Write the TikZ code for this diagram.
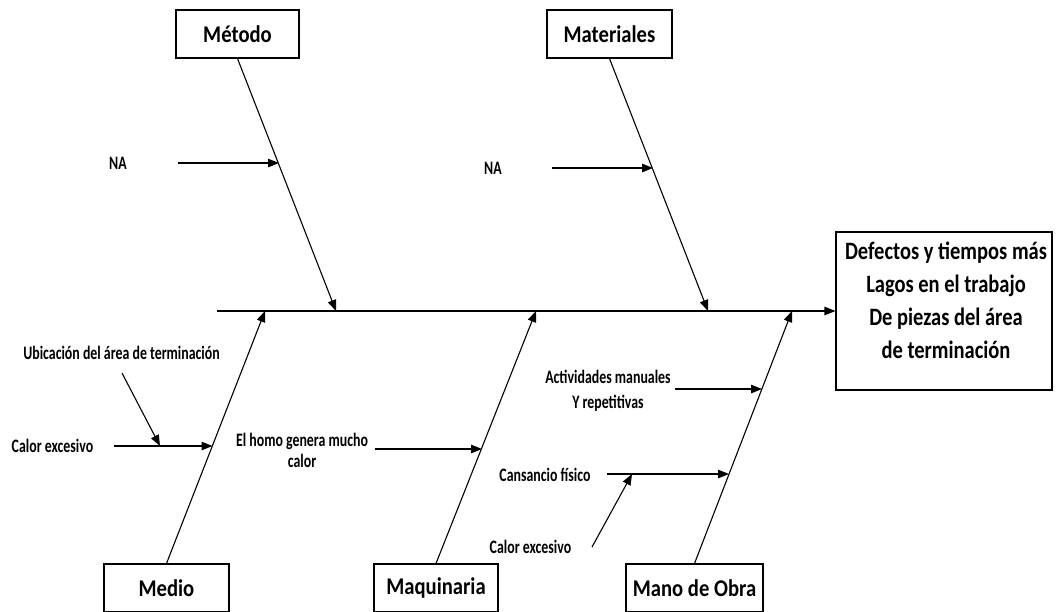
\documentclass[tikz,border=0pt]{standalone}
\usepackage{fontspec}
\setmainfont{Carlito}[FakeStretch=0.86]
\newfontfamily\causefont{Carlito}[FakeStretch=0.73]
\newfontfamily\effectfont{Carlito}[FakeStretch=0.82]
\usetikzlibrary{arrows.meta,calc}
\begin{document}
\begin{tikzpicture}[x=1pt,y=-1pt,
  catbox/.style={draw, line width=1.1pt, minimum height=48pt, inner sep=0pt,
    font=\bfseries\fontsize{24}{28}\selectfont},
  lbl/.style={font=\causefont\bfseries\fontsize{19}{21}\selectfont, align=center, inner sep=0pt},
  bone/.style={line width=1.1pt, -{Triangle[length=11pt,width=8.5pt]}},
]
\useasboundingbox (0,0) rectangle (1056,611);

% effect (head of the fish)
\node[draw, line width=1.1pt, minimum width=216pt, minimum height=158pt, inner sep=0pt] (eff) at (944,311) {};
\node[align=center, inner sep=0pt, font=\effectfont\bfseries\fontsize{25}{33}\selectfont] (efftxt) at (946,300)
  {Defectos y tiempos más\\Lagos en el trabajo\\De piezas del área\\de terminación};

% category boxes
\node[catbox, minimum width=123pt] (met) at (237.5,34) {Método};
\node[catbox, minimum width=125pt] (mat) at (609.5,34) {Materiales};
\node[catbox, minimum width=125pt] (med) at (166.5,588) {Medio};
\node[catbox, minimum width=124pt] (maq) at (436,588) {Maquinaria};
\node[catbox, minimum width=137pt] (mob) at (694.5,588) {Mano de Obra};

% spine
\coordinate (tail) at (217,311);
\draw[bone] (tail) -- (eff.west);

% joints of the main bones on the spine
\coordinate (jmet) at (336,311);
\coordinate (jmat) at (708,311);
\coordinate (jmed) at (265,311);
\coordinate (jmaq) at (536,311);
\coordinate (jmob) at (792,311);

\draw[bone] (met.south) -- (jmet);
\draw[bone] (mat.south) -- (jmat);
\draw[bone] (med.north) -- (jmed);
\draw[bone] (maq.north) -- (jmaq);
\draw[bone] (mob.north) -- (jmob);

% Método causes
\node[lbl] (na1) at (118,163) {NA};
\coordinate (na1s) at (178,163);
\coordinate (na1e) at (279,163);
\draw[bone] (na1s) -- (na1e);

% Materiales causes
\node[lbl] (na2) at (493,168) {NA};
\coordinate (na2s) at (552,168);
\coordinate (na2e) at (653,168);
\draw[bone] (na2s) -- (na2e);

% Medio causes
\node[lbl] (cal1) at (52.5,446) {Calor excesivo};
\coordinate (cal1s) at (114,446);
\coordinate (cal1e) at (212.5,446);
\draw[bone] (cal1s) -- (cal1e);
\node[lbl] (ubi) at (121.5,353) {Ubicación del área de terminación};
\coordinate (ubis) at (122,373);
\coordinate (ubie) at (160,446);
\draw[bone] (ubis) -- (ubie);

% Maquinaria causes
\node[lbl] (hor) at (302,450) {El homo genera mucho\\calor};
\coordinate (hors) at (375,449);
\coordinate (hore) at (482,449);
\draw[bone] (hors) -- (hore);

% Mano de Obra causes
\node[lbl, font=\causefont\bfseries\fontsize{19}{25}\selectfont] (act) at (608,390.5) {Actividades manuales\\Y repetitivas};
\coordinate (acts) at (675,389);
\coordinate (acte) at (762,389);
\draw[bone] (acts) -- (acte);

\node[lbl] (can) at (545,475) {Cansancio físico};
\coordinate (cans) at (607,474);
\coordinate (cane) at (729,474);
\draw[bone] (cans) -- (cane);

\node[lbl] (cal2) at (530.5,547) {Calor excesivo};
\coordinate (cal2s) at (592,547);
\coordinate (cal2e) at (632,474);
\draw[bone] (cal2s) -- (cal2e);
\end{tikzpicture}
\end{document}
